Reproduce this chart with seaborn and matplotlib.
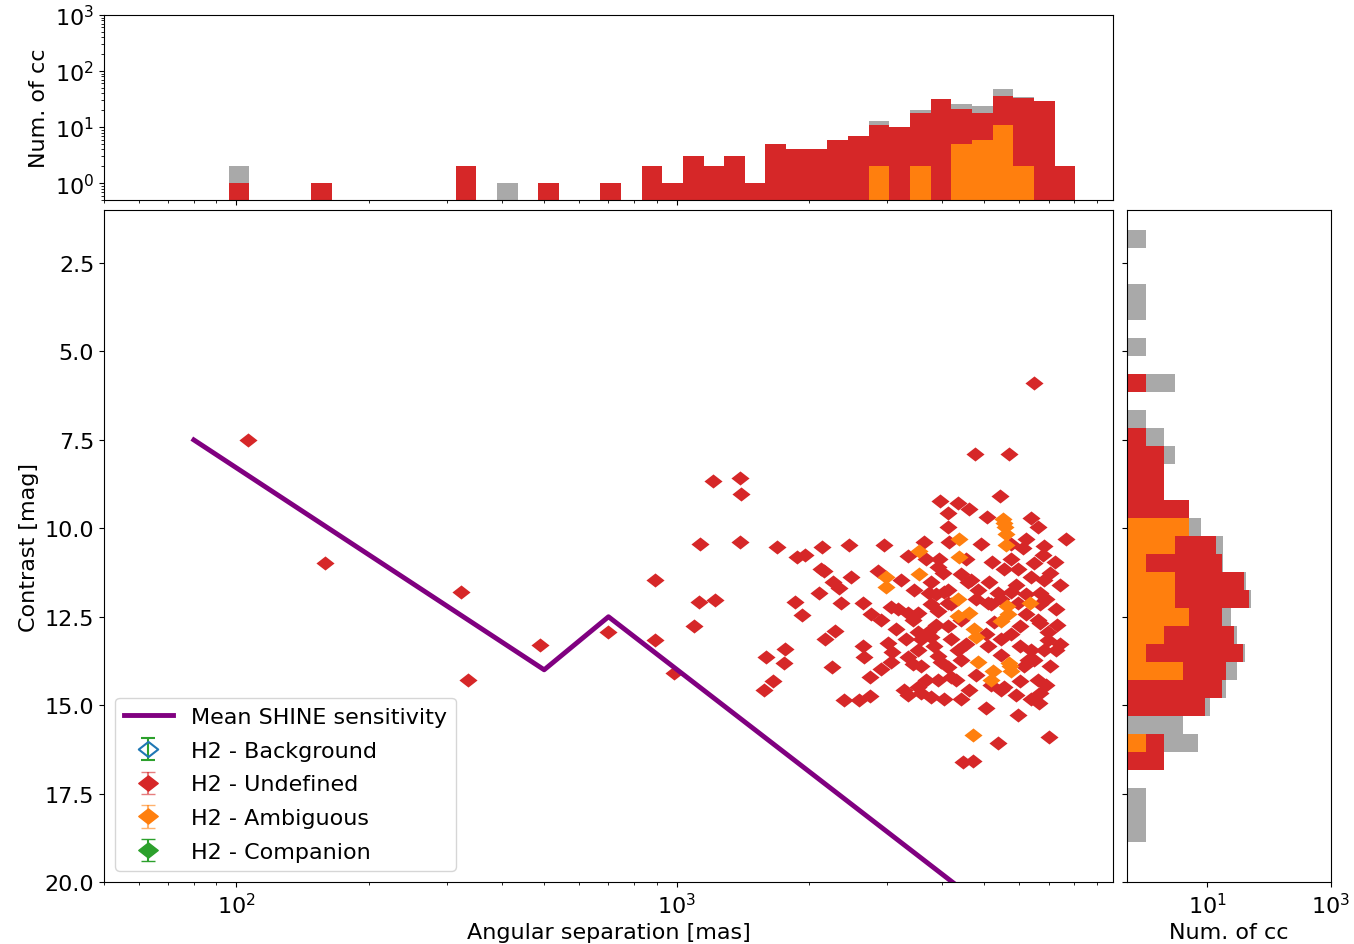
import numpy as np
import matplotlib
matplotlib.use("Agg")
import matplotlib.pyplot as plt
from matplotlib.path import Path
import seaborn as sns

# ---- data ----
# H2 - Undefined candidates: separation [mas], contrast [mag]
undef_sep = [106, 159, 323, 335, 489, 697, 891, 985, 891, 1122,
             1220, 1093, 1129, 1391, 1207, 1391, 1398, 1593, 1577, 1652,
             1687, 1759, 1750, 1854, 1923, 1873, 1953, 2135, 2459, 2952,
             3346, 2158, 2261, 2333, 2484, 2102, 2357, 2645, 2861, 2169,
             2285, 2249, 2395, 2590, 2744, 2744, 2645, 2659, 3015, 3078,
             3062, 3346, 3436, 3346, 3436, 3346, 3526, 6468, 4751, 5675,
             5415, 3957, 4347, 4604, 4126, 5058, 6366, 6603, 7645, 4126,
             3639, 4147, 5192, 6106, 6814, 7218, 6779, 5734, 5529, 5948,
             3915, 4020, 3774, 4415, 4580, 5111, 6366, 6814, 7067, 3453,
             4040, 4826, 5358, 5734, 6707, 3774, 4126, 5084, 3526, 3915,
             4190, 5164, 5948, 6707, 3715, 4126, 5247, 6041, 6603, 6958,
             3526, 3834, 4347, 5084, 5442, 6366, 6814, 3582, 3977, 4415,
             6138, 6468, 3526, 3774, 4040, 3915, 4190, 4604, 5164, 5529,
             6041, 6603, 6707, 6638, 5033, 5948, 5358, 6995, 4462, 4702,
             3226, 3278, 3582, 3915, 4126, 7067, 6958, 6707, 6268, 6041,
             2124, 3935, 4126, 4652, 6468, 3176, 3735, 3062, 3774, 3582,
             4415, 4776, 5442, 5886, 6203, 5734, 5033, 4532, 4302, 5442,
             5886, 6366, 6886, 7256, 7256, 4532, 4902, 5734, 6203, 3677,
             3875, 3312, 3144, 2906, 2758, 2906, 3677, 4415, 6203, 6886,
             7331, 5442, 4776, 4190, 3875, 7446, 7446]
undef_con = [7.49, 10.97, 11.81, 14.30, 13.31, 12.94, 13.17, 14.10, 11.45, 12.09,
             12.04, 12.75, 10.45, 10.40, 8.65, 8.59, 9.04, 13.63, 14.56, 14.31,
             10.54, 13.40, 13.82, 12.07, 12.46, 10.82, 10.74, 10.54, 10.48, 10.46,
             10.77, 11.22, 11.51, 11.68, 11.39, 11.82, 12.12, 12.12, 11.22, 13.14,
             12.89, 13.93, 14.86, 14.86, 14.75, 14.19, 13.34, 13.63, 13.23, 13.51,
             12.23, 12.40, 12.58, 13.63, 13.85, 14.71, 12.94, 5.88, 7.89, 7.89,
             9.10, 9.24, 9.27, 9.44, 9.58, 9.67, 9.72, 9.95, 10.31, 9.97,
             10.40, 10.40, 10.94, 10.57, 10.51, 10.94, 10.74, 10.88, 11.16, 11.16,
             11.08, 11.25, 11.53, 11.30, 11.53, 11.53, 11.39, 11.45, 11.25, 11.73,
             11.79, 11.73, 11.82, 11.79, 11.82, 12.15, 12.10, 12.10, 12.38, 12.35,
             12.15, 12.15, 12.10, 12.15, 12.94, 12.77, 12.66, 12.77, 12.58, 12.94,
             13.43, 13.34, 13.43, 13.34, 13.14, 13.43, 13.43, 13.90, 13.79, 13.71,
             13.90, 13.71, 14.48, 14.76, 14.83, 14.28, 14.19, 14.56, 14.42, 14.48,
             14.33, 14.28, 14.65, 14.93, 15.07, 15.27, 16.06, 15.89, 16.62, 16.59,
             11.45, 14.56, 13.14, 13.60, 13.93, 13.90, 13.17, 12.69, 13.71, 13.34,
             11.16, 10.88, 11.73, 11.45, 10.97, 12.29, 11.82, 13.77, 13.06, 14.65,
             12.58, 12.01, 12.01, 11.59, 12.43, 13.00, 13.00, 13.28, 14.28, 13.57,
             14.71, 14.83, 14.42, 12.29, 13.43, 10.88, 10.45, 10.45, 10.31, 10.88,
             11.87, 13.14, 12.86, 12.58, 12.43, 13.99, 14.28, 14.83, 11.87, 12.01,
             12.72, 14.56, 14.14, 13.14, 12.72, 11.59, 13.28]

# H2 - Ambiguous candidates
amb_sep = [2983, 2983, 3545, 3545, 4369, 4369, 5501, 5559, 5588, 4347,
           4347, 4604, 4726, 4776, 5646, 6334, 4826, 5219, 5164, 5675,
           5734, 4702, 5529, 5588, 5616, 5704, 5442]
amb_con = [11.39, 11.65, 10.63, 11.30, 10.31, 10.82, 9.75, 9.97, 10.48, 12.01,
           12.49, 12.38, 12.86, 13.06, 12.41, 12.10, 13.77, 14.02, 14.28, 13.81,
           14.04, 15.85, 9.86, 10.15, 12.21, 13.90, 12.63]

# mean detection limit
sens_sep = [80, 500, 700, 5000]
sens_con = [7.5, 14.0, 12.5, 20.7]

# separation histogram (41 log bins), counts per bin
sep_bin_range = (96, 8040)
sep_all = [2, 0, 0, 0, 1, 0, 0, 0, 0, 0, 0, 2, 0, 1, 0, 1, 0, 0, 1, 0, 2,
           1, 3, 2, 3, 1, 5, 4, 4, 6, 7, 13, 10, 20, 32, 26, 24, 47, 35, 29, 2]
sep_undef = [1, 0, 0, 0, 1, 0, 0, 0, 0, 0, 0, 2, 0, 0, 0, 1, 0, 0, 1, 0, 2,
             1, 3, 2, 3, 1, 5, 4, 4, 6, 7, 11, 10, 18, 32, 21, 18, 36, 33, 29, 2]
sep_amb = [0, 0, 0, 0, 0, 0, 0, 0, 0, 0, 0, 0, 0, 0, 0, 0, 0, 0, 0, 0, 0,
           0, 0, 0, 0, 0, 0, 0, 0, 0, 0, 2, 0, 2, 0, 5, 6, 11, 2, 0, 0]

# contrast histogram (34 linear bins)
con_bin_range = (1.56, 18.88)
con_all = [1, 0, 0, 1, 1, 0, 1, 0, 3, 0, 1, 2, 3, 2, 2, 5, 8, 18, 18, 42,
           50, 24, 30, 40, 30, 20, 11, 4, 7, 2, 0, 1, 1, 1]
con_undef = [0, 0, 0, 0, 0, 0, 0, 0, 1, 0, 0, 1, 2, 2, 2, 5, 3, 14, 17, 39,
             47, 17, 27, 38, 20, 17, 9, 0, 2, 2, 0, 0, 0, 0]
con_amb = [0, 0, 0, 0, 0, 0, 0, 0, 0, 0, 0, 0, 0, 0, 0, 0, 5, 3, 1, 3,
           3, 5, 2, 1, 4, 0, 0, 0, 1, 0, 0, 0, 0, 0]

GRAY = "darkgray"
RED = "tab:red"
ORANGE = "tab:orange"
GREEN = "tab:green"

plt.rcParams["font.size"] = 16

# slightly flattened diamond, like the markers in the original
diamond = Path([(0, 0.78), (1, 0), (0, -0.78), (-1, 0), (0, 0.78)], closed=True)

fig = plt.figure(figsize=(13.54, 9.45), dpi=100)
ax = fig.add_axes([0.0768, 0.0656, 0.7452, 0.7111])
ax_top = fig.add_axes([0.0768, 0.7873, 0.7452, 0.1958], sharex=ax)
ax_right = fig.add_axes([0.8323, 0.0656, 0.1507, 0.7111], sharey=ax)

# main scatter
ax.set_xscale("log")
sns.lineplot(x=sens_sep, y=sens_con, sort=False, color="purple", lw=3.5, ax=ax)
sns.scatterplot(x=undef_sep, y=undef_con, color=RED, marker=diamond, s=170,
                linewidth=0, ax=ax)
sns.scatterplot(x=amb_sep, y=amb_con, color=ORANGE, marker=diamond, s=170,
                linewidth=0, ax=ax)
ax.set_xlim(50, 9800)
ax.set_ylim(20, 1)
ax.set_yticks([2.5, 5.0, 7.5, 10.0, 12.5, 15.0, 17.5, 20.0])
ax.set_xlabel("Angular separation [mas]")
ax.set_ylabel("Contrast [mag]")

# legend with errorbar style handles
h_line, = ax.plot([], [], color="purple", lw=3.5)
nan = [np.nan]
h_bkg = ax.errorbar(nan, nan, yerr=[1], marker=diamond, ms=14, mfc="none",
                    mec="tab:blue", mew=1.5, ls="none", ecolor=GREEN, capsize=5)
h_und = ax.errorbar(nan, nan, yerr=[1], marker=diamond, ms=14, color=RED,
                    ls="none", ecolor=(0.84, 0.15, 0.16, 0.6), capsize=5)
h_amb = ax.errorbar(nan, nan, yerr=[1], marker=diamond, ms=14, color=ORANGE,
                    ls="none", ecolor=(1.0, 0.5, 0.05, 0.6), capsize=5)
h_com = ax.errorbar(nan, nan, yerr=[1], marker=diamond, ms=14, color=GREEN,
                    ls="none", ecolor=GREEN, capsize=5)
ax.legend([h_line, h_bkg, h_und, h_amb, h_com],
          ["Mean SHINE sensitivity", "H2 - Background", "H2 - Undefined",
           "H2 - Ambiguous", "H2 - Companion"],
          loc="lower left", fontsize=16, labelspacing=0.62, handlelength=2.2)

# separation histogram on top
sep_edges = np.logspace(np.log10(sep_bin_range[0]), np.log10(sep_bin_range[1]), len(sep_all) + 1)
for counts, col in [(sep_all, GRAY), (sep_undef, RED), (sep_amb, ORANGE)]:
    counts = np.array(counts)
    keep = counts > 0
    ax_top.bar(sep_edges[:-1][keep], counts[keep], width=np.diff(sep_edges)[keep],
               align="edge", color=col, linewidth=0)
ax_top.set_yscale("log")
ax_top.set_ylim(0.5, 1000)
ax_top.set_ylabel("Num. of cc")
ax_top.tick_params(axis="x", labelbottom=False)

# contrast histogram on the right
con_edges = np.linspace(con_bin_range[0], con_bin_range[1], len(con_all) + 1)
for counts, col in [(con_all, GRAY), (con_undef, RED), (con_amb, ORANGE)]:
    counts = np.array(counts)
    keep = counts > 0
    ax_right.barh(con_edges[:-1][keep], counts[keep], height=np.diff(con_edges)[keep],
                  align="edge", color=col, linewidth=0)
ax_right.set_xscale("log")
ax_right.set_xlim(0.5, 1000)
ax_right.set_xticks([10, 1000])
ax_right.xaxis.set_minor_locator(matplotlib.ticker.NullLocator())
ax_right.set_xlabel("Num. of cc")
ax_right.tick_params(axis="y", labelleft=False)

fig.savefig("out.png", dpi=100)
